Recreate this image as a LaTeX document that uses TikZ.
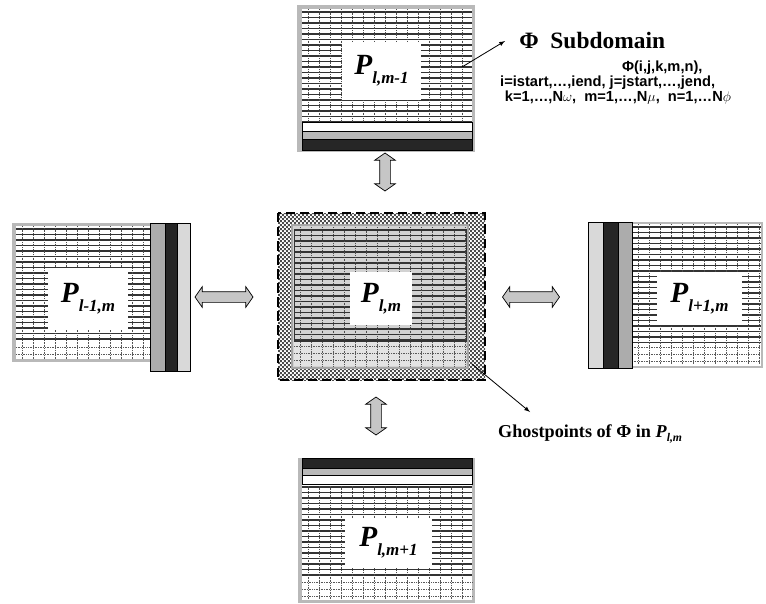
\documentclass[tikz,border=0pt]{standalone}
\usepackage{fontspec}
\setmainfont{Liberation Serif}
\newfontfamily\arialfont{Liberation Sans}
\usetikzlibrary{shapes.arrows,patterns}

\pgfdeclarepatternformonly{finechecker}{\pgfpointorigin}{\pgfqpoint{3.4pt}{3.4pt}}{\pgfqpoint{3.4pt}{3.4pt}}{%
  \pgfpathrectangle{\pgfpointorigin}{\pgfqpoint{1.7pt}{1.7pt}}
  \pgfpathrectangle{\pgfqpoint{1.7pt}{1.7pt}}{\pgfqpoint{1.7pt}{1.7pt}}
  \pgfusepath{fill}}

\tikzset{
  frame/.style={fill=gray!55},
  rowline/.style={line width=0.9pt,black!80},
  colline/.style={line width=0.5pt,black!70,densely dotted},
  lightline/.style={line width=0.45pt,black!65,densely dotted},
  pbox/.style={rectangle,fill=white,inner sep=0pt,font=\fontsize{25}{25}\selectfont\bfseries\itshape},
  link/.style={double arrow,draw=black,fill=gray!45,line width=0.6pt,inner sep=0.15cm,
    double arrow head extend=0.15cm,double arrow tip angle=110},
  pointer/.style={-latex,line width=0.7pt},
}

\newcommand\plab[1]{P\raisebox{-8pt}{\fontsize{14.5}{14.5}\selectfont #1}}

% mesh of a subdomain: x y width height
\newcommand\mesh[4]{%
  \begin{scope}[shift={(#1,#2)}]
    \foreach \yy in {3,8.5,...,#4} \draw[rowline] (0,\yy) -- (#3,\yy);
    \foreach \xx in {6,17,...,#3} \draw[colline] (\xx,0) -- (\xx,#4);
  \end{scope}}
\newcommand\lightmesh[4]{%
  \begin{scope}[shift={(#1,#2)}]
    \foreach \yy in {4,11,...,#4} \draw[lightline] (0,\yy) -- (#3,\yy);
    \foreach \xx in {6,17,...,#3} \draw[lightline] (\xx,0) -- (\xx,#4);
  \end{scope}}

\begin{document}
\begin{tikzpicture}[x=0.03cm,y=-0.03cm]
\useasboundingbox (0,0) rectangle (766,603);

% upper neighbour
\fill[frame] (297,5) rectangle (475,152);
\fill[white] (302,9) rectangle (472,150);
\mesh{302}{9}{170}{113}
\draw[fill=white] (302,122) rectangle (472,131);
\draw[fill=gray!55] (302,131) rectangle (472,139);
\draw[fill=black!85] (302,139) rectangle (472,150);
\node[pbox,minimum width=2.37cm,minimum height=1.74cm] (up) at (381.5,71) {\plab{l,m-1}};

% left neighbour
\fill[frame] (12,223) rectangle (152,362);
\fill[white] (16,226) rectangle (150,359);
\mesh{16}{226}{134}{117}
\lightmesh{16}{343}{134}{16}
\draw[fill=gray!65] (150,223) rectangle (165,371);
\draw[fill=black!85] (165,223) rectangle (177,371);
\draw[fill=gray!30] (177,223) rectangle (190,371);
\node[pbox,minimum width=2.4cm,minimum height=1.86cm] (west) at (88,299) {\plab{l-1,m}};

% own subdomain with ghostpoints
\draw[pattern=finechecker,pattern color=black!70,dash pattern=on 8pt off 4pt,line width=1pt] (278,213) rectangle (485,380);
\draw[fill=gray!35,draw=gray!70,line width=2.5pt] (292,225) rectangle (468,368);
\mesh{294}{227}{172}{113}
\fill[gray!22] (294,342) rectangle (466,366);
\lightmesh{294}{342}{172}{24}
\draw[black!80,line width=0.8pt] (294,229) rectangle (466,341);
\node[pbox,minimum width=1.86cm,minimum height=1.59cm] (mid) at (381,298.5) {\plab{l,m}};

% right neighbour
\fill[frame] (588,222) rectangle (763,368);
\fill[white] (632,224) rectangle (761,366);
\mesh{632}{224}{129}{119}
\lightmesh{632}{343}{129}{22}
\draw[fill=gray!30] (588,222) rectangle (603,368);
\draw[fill=black!85] (603,222) rectangle (618,368);
\draw[fill=gray!65] (618,222) rectangle (632,368);
\node[pbox,minimum width=2.55cm,minimum height=1.59cm] (east) at (699.5,298.5) {\plab{l+1,m}};

% lower neighbour
\fill[frame] (298,458) rectangle (475,603);
\fill[white] (302,484) rectangle (472,600);
\mesh{302}{484}{170}{94}
\lightmesh{302}{578}{170}{22}
\draw[fill=black!85] (302,458) rectangle (472,468);
\draw[fill=gray!55] (302,468) rectangle (472,475);
\draw[fill=white] (302,475) rectangle (472,484);
\node[pbox,minimum width=2.61cm,minimum height=1.5cm] (down) at (388.5,543) {\plab{l,m+1}};

% exchange
\node[link,minimum height=1.14cm,shape border rotate=90] (xup) at (385,172) {};
\node[link,minimum height=1.74cm] (xwest) at (224,297) {};
\node[link,minimum height=1.71cm] (xeast) at (531,297) {};
\node[link,minimum height=1.14cm,shape border rotate=90] (xdown) at (376,416) {};

% labels
\node[anchor=west,inner sep=0pt,inner xsep=12pt,font=\fontsize{20}{20}\selectfont\bfseries] (phi) at (505,41) {Φ\ \ Subdomain};
\node[anchor=north west,inner sep=0pt,align=left,font=\arialfont\bfseries\fontsize{12.5}{11.6}\selectfont] (range) at (500,61)
  {\hspace*{104pt}Φ(i,j,k,m,n),\\ i=istart,…,iend, j=jstart,…,jend,\\ \hspace*{4pt}k=1,…,N$\omega$,\ \ m=1,…,N$\mu$,\ \ n=1,…N$\phi$};
\node[anchor=north west,inner sep=0pt,font=\fontsize{15.5}{15.5}\selectfont\bfseries] (ghost) at (498,424)
  {Ghostpoints of Φ in \textit{P}\raisebox{-4pt}{\fontsize{10}{10}\selectfont\itshape l,m}};

\coordinate (probe) at (462,67);
\coordinate (corner) at (472,364);
\draw[pointer] (probe) -- (phi.west);
\draw[pointer] (corner) -- ([xshift=0.96cm,yshift=0.36cm]ghost.north west);
\end{tikzpicture}
\end{document}
